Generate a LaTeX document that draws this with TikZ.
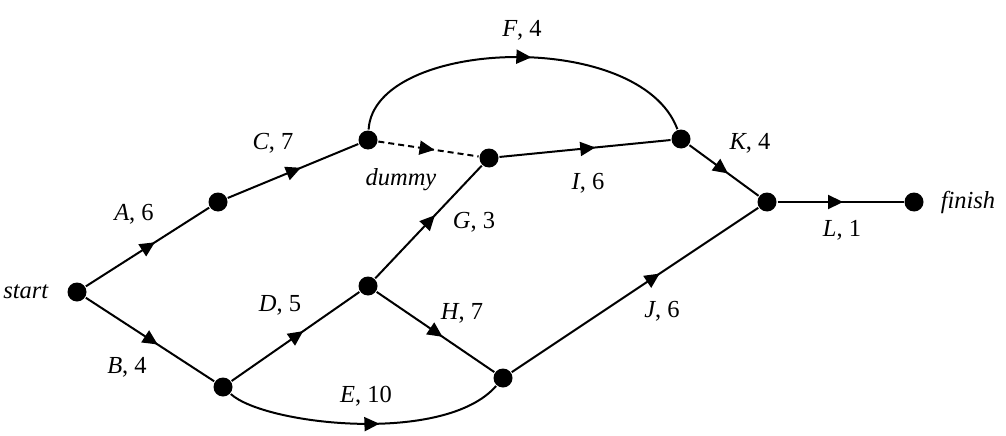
\documentclass[tikz,border=0pt]{standalone}
\usepackage{fontspec}
\setmainfont{Liberation Serif}
\usetikzlibrary{arrows.meta,decorations.markings}
\begin{document}
\begin{tikzpicture}[x=1pt,y=-1pt, line width=2pt,
  vtx/.style={circle,fill=black,inner sep=0pt,minimum size=19pt},
  lbl/.style={font=\fontsize{24.5}{28}\selectfont, inner sep=0pt},
  midarrow/.style={postaction={decorate,solid},decoration={markings,mark=at position #1 with {\arrow{Triangle[length=15pt,width=14pt]}}}},
  midarrow/.default=0.56]
\useasboundingbox (0,0) rectangle (1006,436);
% vertices
\node[vtx] (s)  at (77,292) {};
\node[vtx] (n1) at (218,202) {};
\node[vtx] (n2) at (368,140) {};
\node[vtx] (n3) at (489,158) {};
\node[vtx] (n4) at (681,139) {};
\node[vtx] (n5) at (767,202) {};
\node[vtx] (f)  at (914,202) {};
\node[vtx] (n6) at (368,286) {};
\node[vtx] (n7) at (223,387) {};
\node[vtx] (n8) at (503,378) {};
% edges
\draw[midarrow] (s) -- (n1);
\draw[midarrow] (s) -- (n7);
\draw[midarrow] (n1) -- (n2);
\draw[midarrow] (n7) -- (n6);
\draw[midarrow] (n6) -- (n3);
\draw[midarrow] (n6) -- (n8);
\draw[midarrow, dashed, dash pattern=on 6pt off 4pt] (n2) -- (n3);
\draw[midarrow] (n3) -- (n4);
\draw[midarrow] (n4) -- (n5);
\draw[midarrow=0.6] (n8) -- (n5);
\draw[midarrow=0.52] (n5) -- (f);
\draw[midarrow=0.53] (n2) .. controls (374,38) and (640,28) .. (n4);
\draw[midarrow=0.55] (n7) .. controls (265,425) and (445,445) .. (n8);
% labels
\node[lbl] (lF) at (522,30) {\textit{F}, 4};
\node[lbl] (lC) at (273,143) {\textit{C}, 7};
\node[lbl] (ld) at (401,180) {\textit{dummy}};
\node[lbl] (lI) at (588,183) {\textit{I}, 6};
\node[lbl] (lK) at (750,143) {\textit{K}, 4};
\node[lbl] (lA) at (134,214) {\textit{A}, 6};
\node[lbl] (lG) at (474,222) {\textit{G}, 3};
\node[lbl] (lL) at (842,230) {\textit{L}, 1};
\node[lbl] (lf) at (968,202) {\textit{finish}};
\node[lbl] (ls) at (26,292) {\textit{start}};
\node[lbl] (lD) at (280,305) {\textit{D}, 5};
\node[lbl] (lH) at (462,313) {\textit{H}, 7};
\node[lbl] (lJ) at (662,311) {\textit{J}, 6};
\node[lbl] (lB) at (127,367) {\textit{B}, 4};
\node[lbl] (lE) at (366,396) {\textit{E}, 10};
\end{tikzpicture}
\end{document}
